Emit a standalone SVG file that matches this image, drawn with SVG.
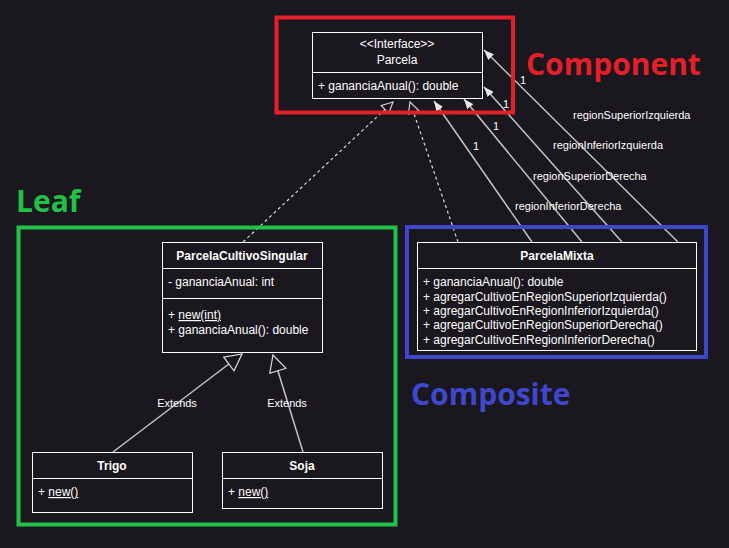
<svg xmlns="http://www.w3.org/2000/svg" width="729" height="548" viewBox="0 0 729 548">
  <style>
    .box { fill: #1a171e; stroke: #ffffff; stroke-width: 1; }
    .div { stroke: #ffffff; stroke-width: 1; }
    .t { font-family: "Liberation Sans", Arial, sans-serif; font-size: 12px; fill: #ffffff; }
    .b { font-weight: bold; }
    .c { text-anchor: middle; }
    .u { text-decoration: underline; }
    .lbl { font-family: "Liberation Sans", Arial, sans-serif; font-size: 11px; fill: #ffffff; }
    .assoc { stroke: #c4c4c4; stroke-width: 1.5; fill: none; marker-end: url(#filled); }
    .real { stroke: #dcdcdc; stroke-width: 1.2; stroke-dasharray: 3 3; fill: none; marker-end: url(#hollowS); }
    .ext { stroke: #c4c4c4; stroke-width: 1.5; fill: none; marker-end: url(#hollowL); }
    .big { font-family: "Open Sans", "Noto Sans", sans-serif; font-weight: bold; font-size: 30px; }
    .frame { fill: none; stroke-width: 4; }
  </style>
  <defs>
    <marker id="filled" viewBox="0 0 10 8" markerWidth="10" markerHeight="8" refX="10" refY="4" orient="auto" markerUnits="userSpaceOnUse">
      <path d="M0,0 L10,4 L0,8 z" fill="#e6e6e6"/>
    </marker>
    <marker id="hollowL" viewBox="0 0 19 19" markerWidth="19" markerHeight="19" refX="17.5" refY="9.5" orient="auto" markerUnits="userSpaceOnUse">
      <path d="M1,1 L17.5,9.5 L1,18 z" fill="#1a171e" stroke="#dcdcdc" stroke-width="1.2"/>
    </marker>
    <marker id="hollowS" viewBox="0 0 13 13" markerWidth="13" markerHeight="13" refX="12" refY="6.5" orient="auto" markerUnits="userSpaceOnUse">
      <path d="M1,1 L12,6.5 L1,12 z" fill="#1a171e" stroke="#dcdcdc" stroke-width="1.1"/>
    </marker>
  </defs>

  <rect x="0" y="0" width="729" height="548" fill="#1a171e"/>

  <g id="connectors">
    <path class="real" d="M243,242 L393,102"/>
    <path class="real" d="M458,242 L410,102"/>
    <path class="assoc" d="M678,242 L484,50"/>
    <path class="assoc" d="M622,242 L484,87"/>
    <path class="assoc" d="M582,242 L464,99"/>
    <path class="assoc" d="M532,242 L434,101"/>
    <path class="ext" d="M113,452 L242,354"/>
    <path class="ext" d="M303,452 L273,355"/>
    <text class="lbl" x="520" y="84">1</text>
    <text class="lbl" x="503" y="108">1</text>
    <text class="lbl" x="493" y="130">1</text>
    <text class="lbl" x="473" y="150">1</text>
    <text class="lbl" x="573" y="119">regionSuperiorIzquierda</text>
    <text class="lbl" x="553" y="149">regionInferiorIzquierda</text>
    <text class="lbl" x="533" y="180">regionSuperiorDerecha</text>
    <text class="lbl" x="515" y="210">regionInferiorDerecha</text>
    <text class="lbl c" x="177" y="407">Extends</text>
    <text class="lbl c" x="287" y="407">Extends</text>
  </g>

  <g id="Parcela">
    <rect class="box" x="312.5" y="32.5" width="170" height="66"/>
    <line class="div" x1="312.5" y1="72.5" x2="482.5" y2="72.5"/>
    <text class="t c" x="397" y="48">&lt;&lt;Interface&gt;&gt;</text>
    <text class="t c" x="397" y="64">Parcela</text>
    <text class="t" x="318" y="90">+ gananciaAnual(): double</text>
  </g>

  <g id="ParcelaCultivoSingular">
    <rect class="box" x="162.5" y="242.5" width="160" height="110"/>
    <line class="div" x1="162.5" y1="268.5" x2="322.5" y2="268.5"/>
    <line class="div" x1="162.5" y1="298.5" x2="322.5" y2="298.5"/>
    <text class="t b c" x="242" y="260">ParcelaCultivoSingular</text>
    <text class="t" x="168" y="286">- gananciaAnual: int</text>
    <text class="t" x="168" y="319">+ <tspan class="u">new(int)</tspan></text>
    <text class="t" x="168" y="334">+ gananciaAnual(): double</text>
  </g>

  <g id="ParcelaMixta">
    <rect class="box" x="417.5" y="242.5" width="279" height="108"/>
    <line class="div" x1="417.5" y1="268.5" x2="696.5" y2="268.5"/>
    <text class="t b c" x="557" y="260">ParcelaMixta</text>
    <text class="t" x="423" y="286">+ gananciaAnual(): double</text>
    <text class="t" x="423" y="300.5">+ agregarCultivoEnRegionSuperiorIzquierda()</text>
    <text class="t" x="423" y="315">+ agregarCultivoEnRegionInferiorIzquierda()</text>
    <text class="t" x="423" y="329">+ agregarCultivoEnRegionSuperiorDerecha()</text>
    <text class="t" x="423" y="343.5">+ agregarCultivoEnRegionInferiorDerecha()</text>
  </g>

  <g id="Trigo">
    <rect class="box" x="32.5" y="452.5" width="160" height="60"/>
    <line class="div" x1="32.5" y1="478.5" x2="192.5" y2="478.5"/>
    <text class="t b c" x="112" y="470">Trigo</text>
    <text class="t" x="38" y="496">+ <tspan class="u">new()</tspan></text>
  </g>

  <g id="Soja">
    <rect class="box" x="222.5" y="452.5" width="160" height="56"/>
    <line class="div" x1="222.5" y1="478.5" x2="382.5" y2="478.5"/>
    <text class="t b c" x="302" y="470">Soja</text>
    <text class="t" x="228" y="496">+ <tspan class="u">new()</tspan></text>
  </g>

  <g id="ComponentFrame">
    <rect class="frame" x="276.5" y="17.5" width="236.5" height="95" stroke="#e3202a"/>
    <text class="big" x="526" y="75" fill="#e3202a">Component</text>
  </g>
  <g id="LeafFrame">
    <rect class="frame" x="18.5" y="227.5" width="377" height="297" stroke="#20c146"/>
    <text class="big" x="16" y="212" fill="#20c146">Leaf</text>
  </g>
  <g id="CompositeFrame">
    <rect class="frame" x="407" y="227" width="299" height="130" stroke="#3f48cc"/>
    <text class="big" x="411" y="405" fill="#3f48cc">Composite</text>
  </g>
</svg>
